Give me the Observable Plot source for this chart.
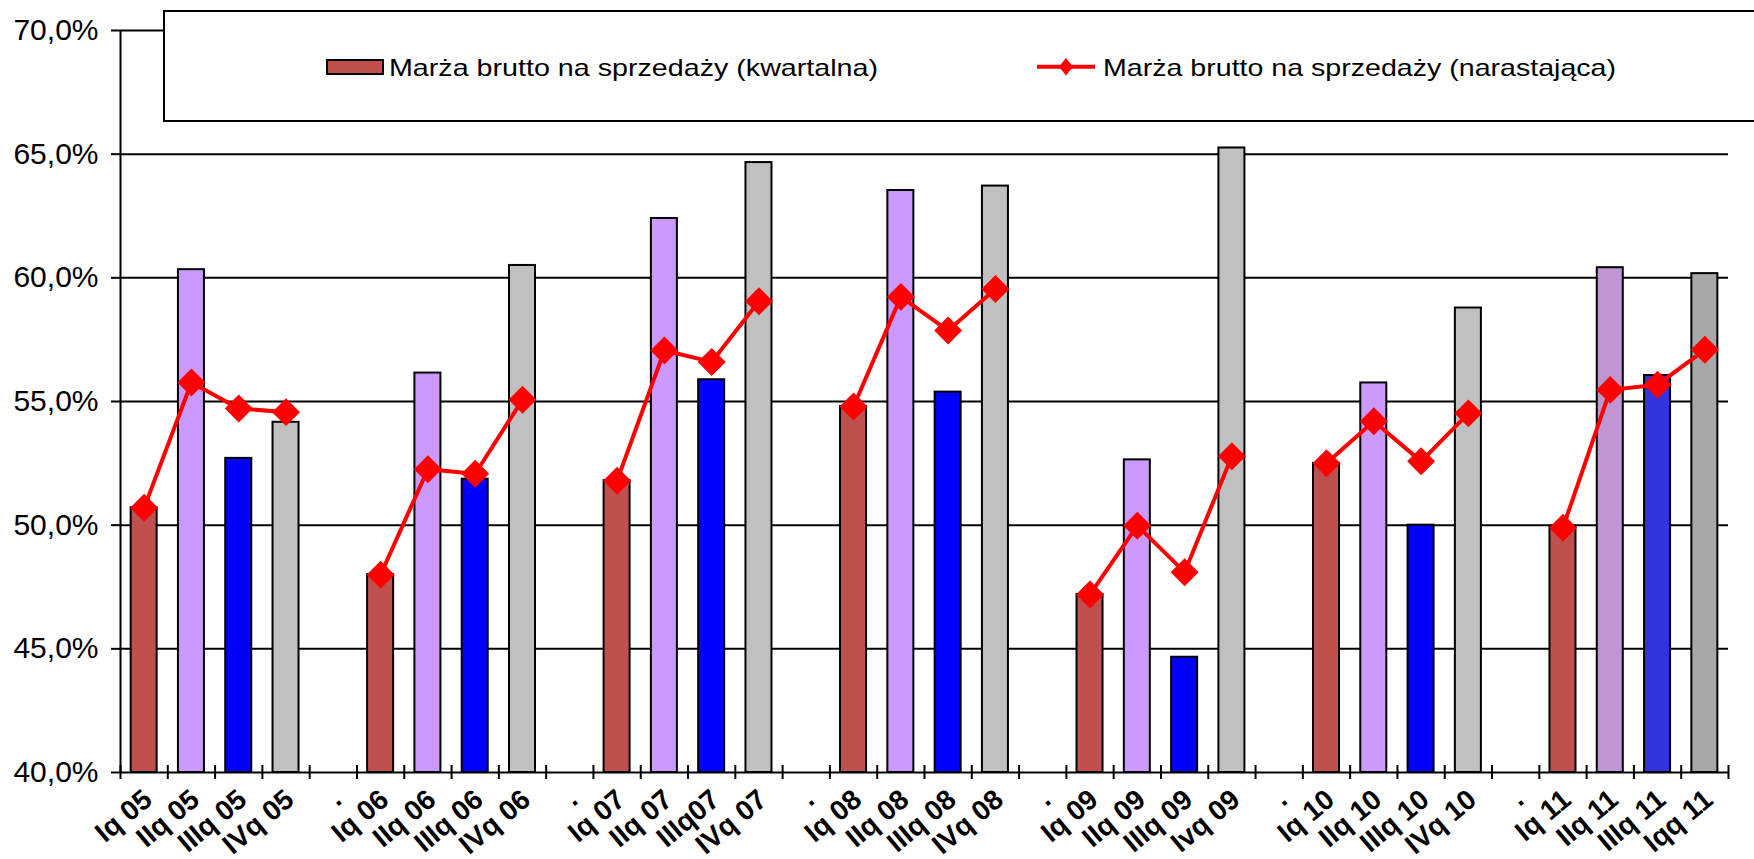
<!DOCTYPE html>
<html>
<head>
<meta charset="utf-8">
<script src="https://cdn.jsdelivr.net/npm/d3@7"></script>
<script src="https://cdn.jsdelivr.net/npm/@observablehq/plot@0.6"></script>
<style>
  html, body { margin: 0; padding: 0; background: white; overflow: hidden; }
  #chart { position: relative; width: 1754px; height: 859px; overflow: hidden; font-family: "Liberation Sans", Arial, sans-serif; }
  #legend { position: absolute; left: 0; top: 0; }
</style>
</head>
<body>
<div id="chart"></div>
<script>
// ---- data ----
const labels = [
  "Iq 05", "IIq 05", "IIIq 05", "IVq 05", ".",
  "Iq 06", "IIq 06", "IIIq 06", "IVq 06", ".",
  "Iq 07", "IIq 07", "IIIq07", "IVq 07", ".",
  "Iq 08", "IIq 08", "IIIq 08", "IVq 08", ".",
  "Iq 09", "IIq 09", "IIIq 09", "Ivq 09", ".",
  "Iq 10", "IIq 10", "IIIq 10", "IVq 10", ".",
  "Iq 11", "IIq 11", "IIIq 11", "Iqq 11"
];
// Marża brutto na sprzedaży (kwartalna), %
const quarterly = [
  50.7, 60.33, 52.7, 54.16, null,
  48.0, 56.15, 51.86, 60.5, null,
  51.8, 62.4, 55.88, 64.66, null,
  54.8, 63.53, 55.38, 63.71, null,
  47.2, 52.64, 44.66, 65.25, null,
  52.5, 55.75, 50.0, 58.78, null,
  49.9, 60.41, 56.05, 60.17
];
// Marża brutto na sprzedaży (narastająca), %
const cumulative = [
  50.7, 55.77, 54.72, 54.57, null,
  48.0, 52.26, 52.08, 55.07, null,
  51.8, 57.06, 56.6, 59.05, null,
  54.8, 59.23, 57.87, 59.55, null,
  47.2, 49.98, 48.1, 52.79, null,
  52.5, 54.2, 52.58, 54.52, null,
  49.9, 55.47, 55.68, 57.09
];
const seriesNames = ["Marża brutto na sprzedaży (kwartalna)", "Marża brutto na sprzedaży (narastająca)"];
const yTicks = [40, 45, 50, 55, 60, 65, 70];

// ---- styles ----
const quarterColors = ["#c0504d", "#cc99ff", "#0000ff", "#c0c0c0"];
const lastYearColors = ["#c0504d", "#bf96d3", "#3333dd", "#a8a8a8"];
const lineColor = "#ff0000";

const W = 1754, H = 859;
const mL = 120, mR = 26, mT = 30, mB = 87;
const idx = labels.map((_, i) => i);
const step = (W - mL - mR) / labels.length;
const baseline = yTicks[0];
const rows = idx.map(i => ({i, label: labels[i], q: quarterly[i], c: cumulative[i]}));
const fillOf = (i) => {
  const pos = i % 5;
  return (i >= 30 ? lastYearColors : quarterColors)[pos];
};
const fmt = d => d.toFixed(1).replace(".", ",") + "%";
const font = "'Liberation Sans', Arial, sans-serif";

const chart = Plot.plot({
  width: W, height: H,
  marginLeft: mL, marginRight: mR, marginTop: mT, marginBottom: mB,
  style: {fontFamily: font, background: "white", color: "black"},
  x: {type: "band", domain: idx, paddingInner: 0.45, paddingOuter: 0.225, round: false, label: null, axis: null},
  y: {domain: [yTicks[0], yTicks[yTicks.length - 1]], label: null, axis: null},
  color: {type: "identity"},
  marks: [
    Plot.ruleY(yTicks.slice(1), {stroke: "black", strokeWidth: 2}),
    Plot.barY(rows.filter(d => d.q != null), {
      x: "i", y1: baseline, y2: "q", fill: d => fillOf(d.i), stroke: "black", strokeWidth: 2
    }),
    Plot.ruleY([baseline], {stroke: "black", strokeWidth: 2}),
    Plot.ruleX([0], {x: d => d, dx: -step / 2, stroke: "black", strokeWidth: 2}),
    Plot.ruleX(idx, {x: d => d, dx: -step / 2, y1: baseline, y2: baseline, insetTop: 7, insetBottom: 7, stroke: "black", strokeWidth: 2}),
    Plot.ruleX([idx[idx.length - 1]], {x: d => d, dx: step / 2, y1: baseline, y2: baseline, insetTop: 7, insetBottom: 7, stroke: "black", strokeWidth: 2}),
    Plot.line(rows, {x: "i", y: "c", stroke: lineColor, strokeWidth: 4}),
    Plot.dot(rows.filter(d => d.c != null), {x: "i", y: "c", symbol: "diamond2", r: 12.6, fill: lineColor, stroke: "none"}),
    Plot.axisY({ticks: yTicks, tickSize: 9, tickPadding: 13, fontSize: 30, tickFormat: fmt, strokeWidth: 2}),
    Plot.axisX({ticks: idx, tickSize: 0, tickRotate: -40, tickPadding: 23, dx: 4, fontSize: 28, fontWeight: "bold", tickFormat: i => labels[i]})
  ]
});
const container = document.getElementById("chart");
container.appendChild(chart);

// ---- legend (overlaid inside the chart, as in the original) ----
const lg = d3.select(container).append("svg")
  .attr("id", "legend").attr("width", W).attr("height", 130)
  .style("font-family", font);
lg.append("rect").attr("x", 164).attr("y", 11).attr("width", 1700).attr("height", 110)
  .attr("fill", "white").attr("stroke", "black").attr("stroke-width", 2);
lg.append("rect").attr("x", 327).attr("y", 60).attr("width", 56).attr("height", 14)
  .attr("fill", quarterColors[0]).attr("stroke", "black").attr("stroke-width", 2);
lg.append("text").attr("x", 389).attr("y", 75.5).attr("font-size", 24)
  .attr("textLength", 489).attr("lengthAdjust", "spacingAndGlyphs").text(seriesNames[0]);
lg.append("line").attr("x1", 1037).attr("x2", 1095).attr("y1", 66.7).attr("y2", 66.7)
  .attr("stroke", lineColor).attr("stroke-width", 4);
lg.append("path").attr("d", "M1066,58 L1073,66.7 L1066,75.4 L1059,66.7 Z").attr("fill", lineColor);
lg.append("text").attr("x", 1103).attr("y", 75.5).attr("font-size", 24)
  .attr("textLength", 513).attr("lengthAdjust", "spacingAndGlyphs").text(seriesNames[1]);
</script>
</body>
</html>
